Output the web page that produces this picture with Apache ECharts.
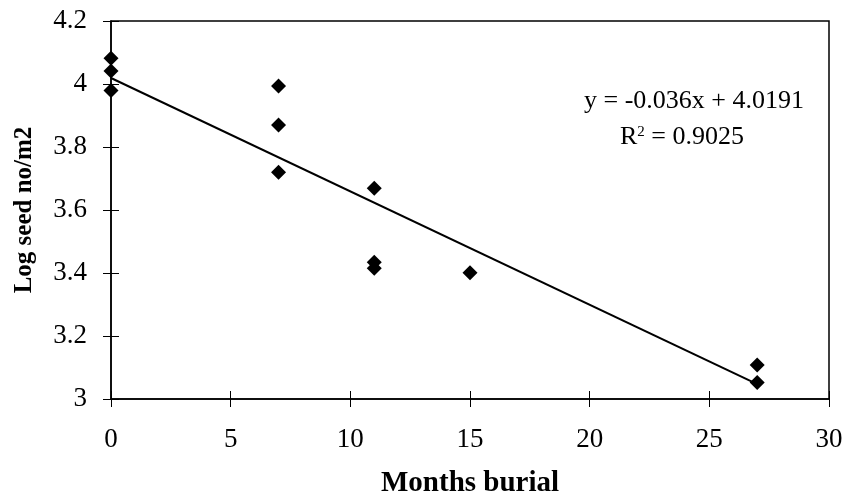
<!DOCTYPE html>
<html>
<head>
<meta charset="utf-8">
<script src="https://cdn.jsdelivr.net/npm/echarts@6/dist/echarts.min.js"></script>
<style>
  html, body { margin: 0; padding: 0; background: #fff; }
  #main { width: 847px; height: 500px; }
</style>
</head>
<body>
<div id="main"></div>
<script>
// measured points (months of burial, log seed number per m2)
var months = [0, 0, 0, 7, 7, 7, 11, 11, 11, 15, 27, 27];
var logSeed = [4.082, 4.041, 3.979, 3.994, 3.870, 3.720, 3.669, 3.434, 3.415, 3.401, 3.108, 3.052];
// fitted line y = -0.036x + 4.0191, end points
var trendX = [0, 27];
var trendY = [4.0191, 3.0471];
var xTicks = [0, 5, 10, 15, 20, 25, 30];
var yTicks = [3, 3.2, 3.4, 3.6, 3.8, 4, 4.2];

var serif = '"Liberation Serif", "Times New Roman", serif';

var chart = echarts.init(document.getElementById('main'));

function pairs(xs, ys) {
    return xs.map(function (x, i) { return [x, ys[i]]; });
}

var axisLineStyle = { color: '#000', width: 1.5 };

chart.setOption({
    animation: false,
    grid: {
        left: 111, top: 21, right: 18, bottom: 101,
        outerBoundsMode: 'none', containLabel: false,
        show: true, borderColor: '#000', borderWidth: 1.5
    },
    xAxis: [{
        type: 'value', min: 0, max: 30, interval: 5,
        name: 'Months burial', nameLocation: 'middle', nameGap: 70,
        nameTextStyle: { fontFamily: serif, fontWeight: 'bold', fontSize: 29, color: '#000' },
        axisLine: { lineStyle: axisLineStyle },
        axisTick: { show: true, length: 8, lineStyle: { color: '#000', width: 1 } },
        axisLabel: {
            fontFamily: serif, fontSize: 27, color: '#000', margin: 27,
            formatter: function (v) { return xTicks.indexOf(v) >= 0 ? String(v) : ''; }
        },
        splitLine: { show: false }
    }, {
        type: 'value', min: 0, max: 30, interval: 5, position: 'bottom',
        axisLine: { show: false },
        axisTick: { show: true, inside: true, length: 8, lineStyle: { color: '#000', width: 1 } },
        axisLabel: { show: false }, splitLine: { show: false }
    }],
    yAxis: [{
        type: 'value', min: 3, max: 4.2, interval: 0.2,
        name: 'Log seed no/m2', nameLocation: 'middle', nameGap: 74,
        nameTextStyle: { fontFamily: serif, fontWeight: 'bold', fontSize: 25, color: '#000' },
        axisLine: { show: true, lineStyle: axisLineStyle },
        axisTick: { show: true, length: 8, lineStyle: { color: '#000', width: 1 } },
        axisLabel: {
            fontFamily: serif, fontSize: 27, color: '#000', margin: 24,
            formatter: function (v) {
                var r = Math.round(v * 10) / 10;
                return yTicks.indexOf(r) >= 0 ? String(r) : '';
            }
        },
        splitLine: { show: false }
    }, {
        type: 'value', min: 3, max: 4.2, interval: 0.2, position: 'left',
        axisLine: { show: false },
        axisTick: { show: true, inside: true, length: 8, lineStyle: { color: '#000', width: 1 } },
        axisLabel: { show: false }, splitLine: { show: false }
    }],
    series: [{
        type: 'line',
        data: pairs(trendX, trendY),
        showSymbol: false,
        lineStyle: { color: '#000', width: 2 },
        z: 2
    }, {
        type: 'scatter',
        data: pairs(months, logSeed),
        symbol: 'diamond',
        symbolSize: 15,
        itemStyle: { color: '#000', opacity: 1 },
        z: 3
    }],
    graphic: [{
        type: 'text', x: 694, y: 101,
        style: {
            text: 'y = -0.036x + 4.0191', font: '26px ' + serif, fill: '#000',
            align: 'center', verticalAlign: 'middle'
        }
    }, {
        type: 'text', x: 682, y: 137,
        style: {
            text: 'R{sup|2} = 0.9025',
            font: '26px ' + serif, fill: '#000',
            align: 'center', verticalAlign: 'middle',
            rich: { sup: { fontSize: 15, fontFamily: serif, padding: [0, 0, 10, 0] } }
        }
    }]
});
</script>
</body>
</html>
